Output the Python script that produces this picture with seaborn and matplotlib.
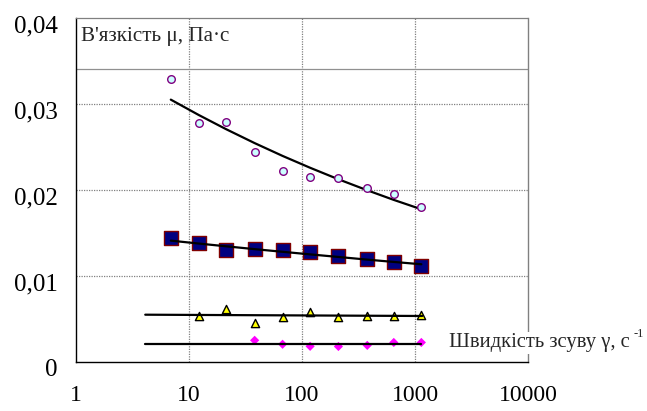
import matplotlib
matplotlib.use("Agg")
import matplotlib.pyplot as plt
import matplotlib.transforms as mtransforms
import seaborn as sns
import numpy as np
import pandas as pd

sns.set_style("white")
plt.rcParams['font.family'] = ['Liberation Serif', 'DejaVu Serif']

# shear rates (1/s)
shear = [6.9, 12.2, 21.3, 38.1, 67.3, 118, 210, 378, 649, 1138]

# series 1: circles
mu_circ = [0.0329, 0.0278, 0.0279, 0.02445, 0.02216, 0.0215, 0.02135, 0.0202, 0.01956, 0.0180]
trend_circ = [0.0305, 0.02871, 0.02706, 0.02544, 0.02395, 0.02257, 0.02123, 0.01995, 0.01883, 0.01774]

# series 2: squares
mu_sq = [0.01444, 0.01378, 0.0130, 0.01312, 0.0130, 0.01281, 0.01234, 0.01196, 0.01161, 0.01118]
trend_sq = [0.01409, 0.01375, 0.01343, 0.01310, 0.01279, 0.01249, 0.01219, 0.01188, 0.01161, 0.01134]

# series 3: triangles
shear_tri = [12.2, 21.3, 38.1, 67.3, 118, 210, 378, 649, 1138]
mu_tri = [0.0053, 0.0061, 0.0045, 0.0052, 0.0058, 0.0052, 0.0053, 0.0053, 0.0054]
trend_tri_x = [4.1, 1160]
trend_tri_y = [0.00547, 0.00532]

# series 4: diamonds
shear_dia = [38.1, 67.3, 118, 210, 378, 649, 1138]
mu_dia = [0.00249, 0.00203, 0.00179, 0.00177, 0.0019, 0.00224, 0.00224]
trend_dia_x = [4.1, 1138]
trend_dia_y = [0.00203, 0.00203]

xticks = [1, 10, 100, 1000, 10000]
xtick_labels = ["1", "10", "100", "1000", "10000"]
yticks = [0, 0.01, 0.02, 0.03, 0.04]
ytick_labels = ["0", "0,01", "0,02", "0,03", "0,04"]
extra_hline = 0.0341

fig = plt.figure(figsize=(6.47, 4.11), dpi=100)
ax = fig.add_axes([76/647, 1 - 361.7/411, (528 - 76)/647, (361.7 - 18)/411])
ax.set_xscale('log')
ax.set_xlim(1, 10000)
ax.set_ylim(0, 0.04)

# grid
for xv in [10, 100, 1000]:
    ax.axvline(xv, color='#808080', lw=0.9, ls=(0, (1, 1)), zorder=0)
for yv in [0.01, 0.02, 0.03]:
    ax.axhline(yv, color='#808080', lw=0.9, ls=(0, (1, 1)), zorder=0)
ax.axhline(extra_hline, color='#909090', lw=0.9, zorder=0)

# trend lines
sns.lineplot(x=shear, y=trend_circ, ax=ax, color='black', lw=1.6, zorder=3)
sns.lineplot(x=shear, y=trend_sq, ax=ax, color='black', lw=1.6, zorder=3)
sns.lineplot(x=trend_tri_x, y=trend_tri_y, ax=ax, color='black', lw=1.6, zorder=3)
sns.lineplot(x=trend_dia_x, y=trend_dia_y, ax=ax, color='black', lw=1.6, zorder=3)

# markers
sns.scatterplot(x=shear, y=mu_circ, ax=ax, marker='o', s=30, color='#CCFFFF',
                edgecolor='#800080', linewidth=1.0, zorder=4)
sns.scatterplot(x=shear, y=mu_sq, ax=ax, marker='s', s=95, color='#000080',
                edgecolor='#800000', linewidth=1.0, zorder=2)
sns.scatterplot(x=shear_tri, y=mu_tri, ax=ax, marker='^', s=35, color='#FFFF00',
                edgecolor='black', linewidth=1.0, zorder=2)
sns.scatterplot(x=shear_dia, y=mu_dia, ax=ax, marker='D', s=22, color='#FF00FF',
                edgecolor='none', linewidth=0, zorder=2)

ax.set_xticks(xticks)
ax.set_xticklabels(xtick_labels)
ax.minorticks_off()
ax.set_yticks(yticks)
ax.set_yticklabels(ytick_labels)
ax.tick_params(axis='both', direction='out', length=5, width=0.9, colors='black')
ax.tick_params(axis='y', pad=8, labelsize=18)
ax.tick_params(axis='x', pad=12, labelsize=17)

offset = mtransforms.ScaledTranslation(0, -6/100, fig.dpi_scale_trans)
for lab in ax.get_yticklabels():
    lab.set_transform(lab.get_transform() + offset)

for side in ['left', 'bottom']:
    ax.spines[side].set_color('black')
    ax.spines[side].set_linewidth(1.0)
ax.spines['top'].set_color('#808080')
ax.spines['top'].set_linewidth(0.9)
ax.spines['top'].set_linestyle((0, (1, 1)))
ax.spines['right'].set_color('#808080')
ax.spines['right'].set_linewidth(1.0)

ax.text(0.0105, 1 - (36.7 - 18) / 343.7, "В'язкість μ, Па·с", transform=ax.transAxes,
        fontsize=15.2, ha='left', va='center')
fig.text(449/647, 1 - 342.7/411, "Швидкість зсуву γ, с", fontsize=14.9,
         ha='left', va='center',
         bbox=dict(facecolor='white', edgecolor='none', pad=1))
fig.text(634/647, 1 - 334/411, "-1", fontsize=9, ha='left', va='center')

ax.set_xlabel('')
ax.set_ylabel('')
fig.savefig('out.png', dpi=100)
